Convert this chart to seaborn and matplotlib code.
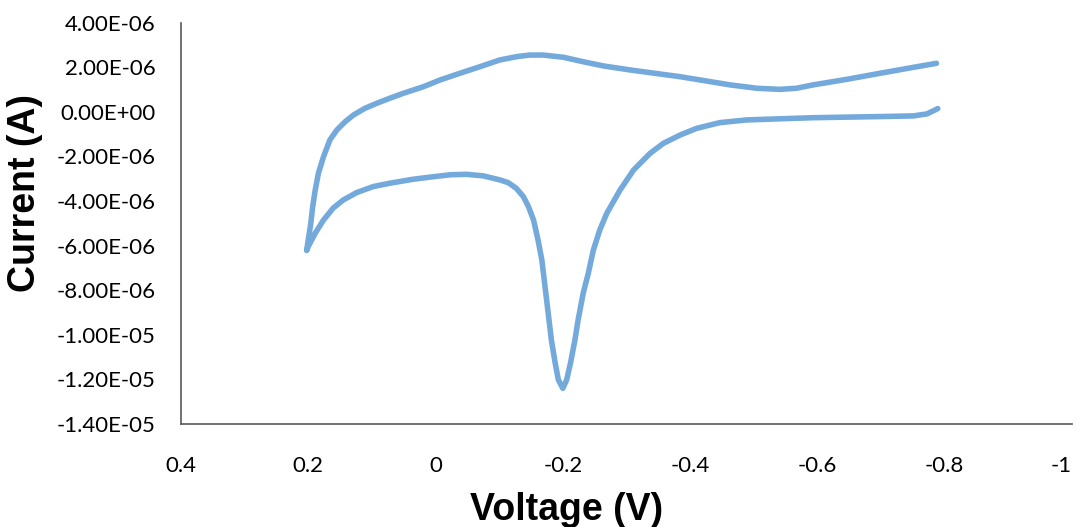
import numpy as np
import pandas as pd
import matplotlib
matplotlib.use("Agg")
import matplotlib.pyplot as plt
import seaborn as sns

# cyclic voltammogram (current in units of 1e-6 A)
# reverse scan: starts at -0.79 V, goes back through the reduction peak to +0.2 V
voltage_lower = [-0.789, -0.785, -0.772, -0.751, -0.698, -0.594, -0.489, -0.447,
                 -0.410, -0.384, -0.358, -0.337, -0.311, -0.290, -0.269, -0.258,
                 -0.248, -0.240, -0.232, -0.224, -0.219, -0.212, -0.206, -0.200,
                 -0.193, -0.188, -0.182, -0.177, -0.172, -0.167, -0.161, -0.154,
                 -0.146, -0.138, -0.127, -0.114, -0.101, -0.075, -0.049, -0.023,
                 0.004, 0.035, 0.072, 0.098, 0.124, 0.145, 0.161, 0.176,
                 0.189, 0.200, 0.2025]
current_lower = [0.15, 0.09, -0.09, -0.18, -0.21, -0.26, -0.36, -0.48,
                 -0.74, -1.04, -1.41, -1.86, -2.61, -3.50, -4.55, -5.30,
                 -6.19, -7.24, -8.13, -9.33, -10.23, -11.27, -12.02, -12.40,
                 -12.02, -11.27, -10.23, -9.03, -7.84, -6.64, -5.74, -4.85,
                 -4.25, -3.80, -3.43, -3.17, -3.05, -2.87, -2.80, -2.82,
                 -2.91, -3.02, -3.20, -3.35, -3.62, -3.95, -4.32, -4.85,
                 -5.44, -6.04, -6.22]
# forward scan: from +0.2 V back out to -0.79 V
voltage_upper = [0.196, 0.193, 0.189, 0.184, 0.176, 0.166, 0.155, 0.142,
                 0.129, 0.111, 0.092, 0.072, 0.051, 0.019, -0.007, -0.038,
                 -0.070, -0.101, -0.128, -0.148, -0.169, -0.201, -0.232, -0.264,
                 -0.306, -0.384, -0.463, -0.505, -0.541, -0.567, -0.593, -0.646,
                 -0.698, -0.751, -0.787]
current_upper = [-5.00, -4.25, -3.50, -2.75, -2.01, -1.26, -0.81, -0.44,
                 -0.14, 0.16, 0.39, 0.61, 0.83, 1.13, 1.43, 1.73,
                 2.03, 2.33, 2.48, 2.55, 2.55, 2.45, 2.25, 2.06,
                 1.88, 1.58, 1.21, 1.06, 1.01, 1.06, 1.21, 1.46,
                 1.73, 2.00, 2.18]

x_ticks = [0.4, 0.2, 0, -0.2, -0.4, -0.6, -0.8, -1]
y_ticks = [4e-6, 2e-6, 0, -2e-6, -4e-6, -6e-6, -8e-6, -1e-5, -1.2e-5, -1.4e-5]

cv = pd.DataFrame({
    "Voltage": voltage_lower + voltage_upper,
    "Current": [c * 1e-6 for c in current_lower + current_upper],
})

sns.set_theme(style="white")
plt.rcParams["font.family"] = ["Lato", "DejaVu Sans"]

fig = plt.figure(figsize=(10.77, 5.27), dpi=100)
ax = fig.add_axes([0.168, 0.1954, 0.8274, 0.7615])

sns.lineplot(data=cv, x="Voltage", y="Current", sort=False, estimator=None,
             color="#5B9BD5", linewidth=4.0, alpha=0.85, ax=ax)
for line in ax.get_lines():
    line.set_solid_joinstyle("round")
    line.set_solid_capstyle("round")

ax.set_xlim(0.4, -1)
ax.set_ylim(-1.4e-5, 4e-6)
ax.set_xticks(x_ticks)
ax.set_xticklabels([f"{v:g}" for v in x_ticks])
ax.set_yticks(y_ticks)
ax.set_yticklabels([f"{v:.2E}" for v in y_ticks])
ax.tick_params(axis="x", length=0, pad=23, labelsize=16, labelcolor="black")
ax.tick_params(axis="y", length=0, pad=18, labelsize=16, labelcolor="black")
ax.get_xticklabels()[-1].set_horizontalalignment("right")
ax.set_xlabel("")
ax.set_ylabel("")

for s in ["top", "right"]:
    ax.spines[s].set_visible(False)
for s in ["left", "bottom"]:
    ax.spines[s].set_color("#595959")
    ax.spines[s].set_linewidth(1.2)

fig.text(567 / 1077, 1 - 510 / 527, "Voltage (V)", ha="center", va="center",
         fontsize=27, fontweight="bold", color="black",
         family=["Liberation Sans", "DejaVu Sans"])
fig.text(25 / 1077, 1 - 193 / 527, "Current (A)", ha="center", va="center",
         rotation=90, fontsize=27, fontweight="bold", color="black",
         family=["Liberation Sans", "DejaVu Sans"])

fig.savefig("out.png", dpi=100)
